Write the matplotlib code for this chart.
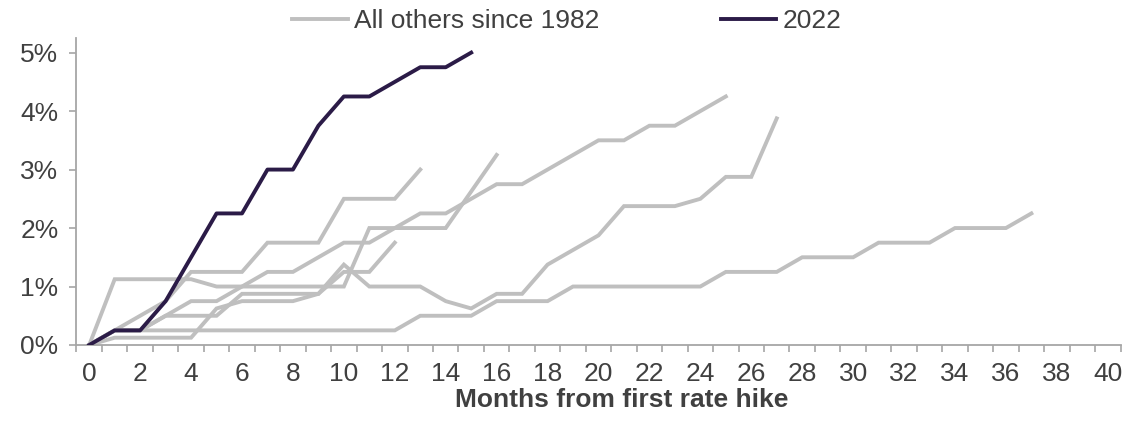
import matplotlib
matplotlib.use("Agg")
import matplotlib.pyplot as plt
import numpy as np

plt.rcParams['font.family'] = ['Liberation Sans', 'DejaVu Sans']

# Fed funds cumulative increase (%) by months since first hike
cycle_2022 = [0, 0.25, 0.25, 0.75, 1.5, 2.25, 2.25, 3.0, 3.0, 3.75, 4.25, 4.25, 4.5, 4.75, 4.75, 5.0]

other_a = [0, 0.25, 0.5, 0.75, 1.25, 1.25, 1.25, 1.75, 1.75, 1.75, 2.5, 2.5, 2.5, 3.0]
other_b = [0, 1.125, 1.125, 1.125, 1.125, 1.0, 1.0, 1.0, 1.0, 1.0, 1.0, 2.0, 2.0, 2.0, 2.0, 2.625, 3.25]
other_c = [0, 0.25, 0.25, 0.5, 0.75, 0.75, 1.0, 1.25, 1.25, 1.5, 1.75, 1.75, 2.0, 2.25, 2.25,
           2.5, 2.75, 2.75, 3.0, 3.25, 3.5, 3.5, 3.75, 3.75, 4.0, 4.25]
other_d = [0, 0.25, 0.25, 0.5, 0.5, 0.5, 0.875, 0.875, 0.875, 0.875, 1.375, 1.0, 1.0, 1.0, 0.75,
           0.625, 0.875, 0.875, 1.375, 1.625, 1.875, 2.375, 2.375, 2.375, 2.5, 2.875, 2.875, 3.875]
other_e = [0, 0.25, 0.25, 0.25, 0.25, 0.25, 0.25, 0.25, 0.25, 0.25, 0.25, 0.25, 0.25, 0.5, 0.5,
           0.5, 0.75, 0.75, 0.75, 1.0, 1.0, 1.0, 1.0, 1.0, 1.0, 1.25, 1.25, 1.25, 1.5, 1.5, 1.5,
           1.75, 1.75, 1.75, 2.0, 2.0, 2.0, 2.25]
other_f = [0, 0.125, 0.125, 0.125, 0.125, 0.625, 0.75, 0.75, 0.75, 0.875, 1.25, 1.25, 1.75]

others = [other_a, other_b, other_c, other_d, other_e, other_f]
x_ticks = list(range(0, 41, 2))
y_ticks = [0, 1, 2, 3, 4, 5]

GRAY = '#BFBFBF'
DARK = '#2B1B47'
AXIS = '#A6A6A6'
TEXT = '#404040'
FS = 19

fig = plt.figure(figsize=(11.36, 4.21), dpi=100)
ax = fig.add_axes([76.5 / 1136, 76 / 421, (1120.5 - 76.5) / 1136, (345 - 38) / 421])

for i, s in enumerate(others):
    ax.plot(range(len(s)), s, color=GRAY, lw=2.8, solid_joinstyle='miter',
            label='All others since 1982' if i == 0 else None, zorder=2)
ax.plot(range(len(cycle_2022)), cycle_2022, color=DARK, lw=2.8, label='2022', zorder=3)

ax.set_xlim(-0.5, 40.5)
ax.set_ylim(0, 5.25)

ax.set_xticks(x_ticks)
ax.set_xticklabels([str(v) for v in x_ticks])
ax.set_xticks(np.arange(-0.5, 40.6, 1), minor=True)
ax.tick_params(axis='x', which='major', length=0, pad=12, labelsize=FS, labelcolor=TEXT)
ax.tick_params(axis='x', which='minor', length=5, width=1.2, color=AXIS, direction='out')

ax.set_yticks(y_ticks)
ax.set_yticklabels([f'{v}%' for v in y_ticks])
ax.tick_params(axis='y', length=5, width=1.2, color=AXIS, direction='out', pad=8,
               labelsize=FS, labelcolor=TEXT)

for side in ['top', 'right']:
    ax.spines[side].set_visible(False)
for side in ['left', 'bottom']:
    ax.spines[side].set_color(AXIS)
    ax.spines[side].set_linewidth(1.3)

ax.set_xlabel('Months from first rate hike', fontsize=FS, fontweight='bold', color=TEXT)
ax.xaxis.set_label_coords((622 - 76.5) / 1044, -(400 - 345) / 307, transform=ax.transAxes)
ax.xaxis.label.set_verticalalignment('center')

leg = fig.legend(loc='center', bbox_to_anchor=(567 / 1136, 1 - 21 / 421), ncol=2, frameon=False,
                 fontsize=FS, handlelength=2.1, handletextpad=0.25, columnspacing=4.6,
                 borderaxespad=0)
for t in leg.get_texts():
    t.set_color(TEXT)

fig.savefig('out.png', dpi=100)
